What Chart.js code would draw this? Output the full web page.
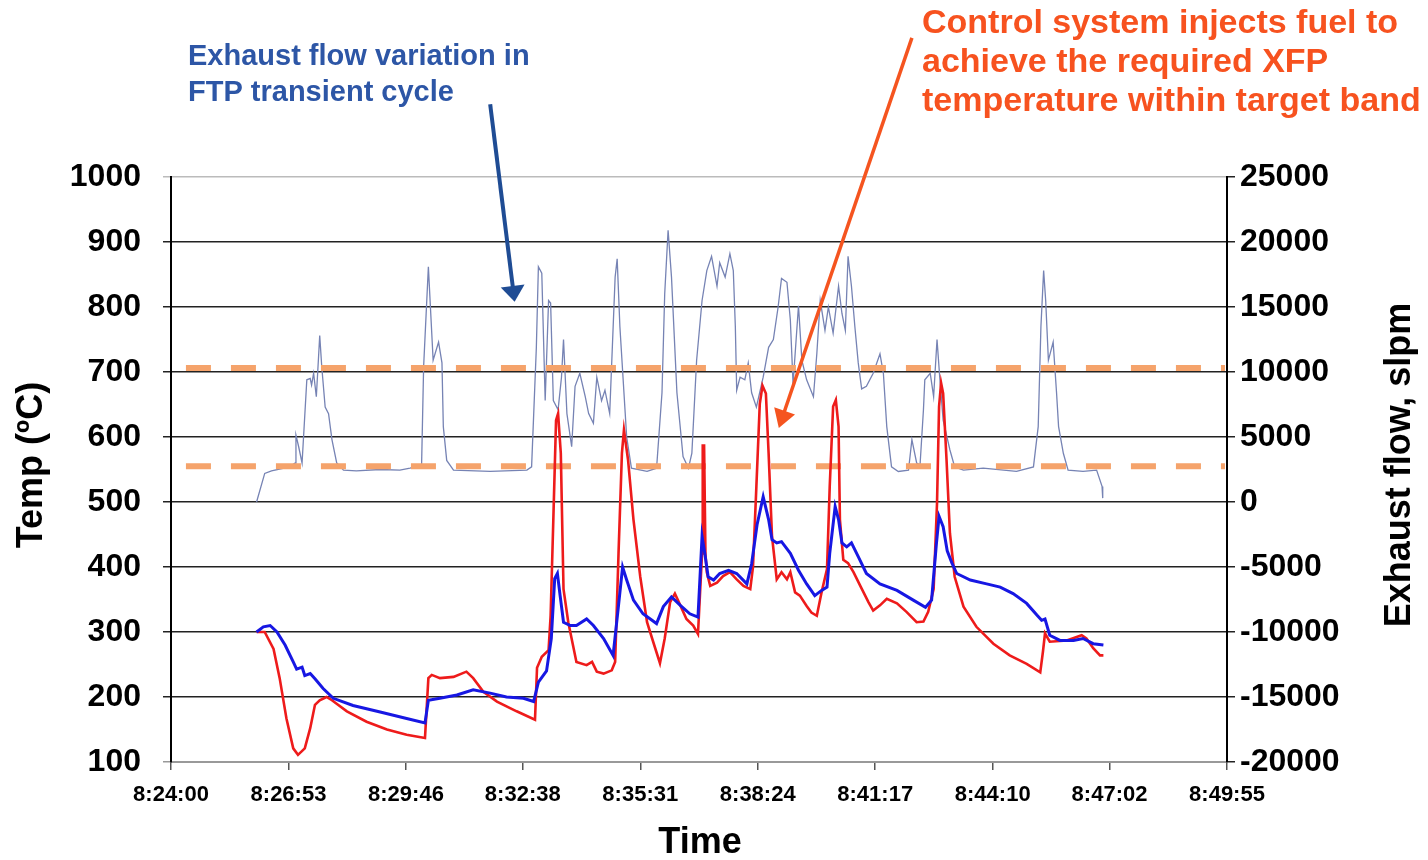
<!DOCTYPE html>
<html>
<head>
<meta charset="utf-8">
<script src="https://cdn.jsdelivr.net/npm/chart.js@4.4.1/dist/chart.umd.min.js"></script>
<style>
  html, body { margin: 0; padding: 0; background: #fff; }
  canvas { display: block; }
</style>
</head>
<body>
<canvas id="xfp" width="1428" height="860"></canvas>
<script>

// clock labels on the time axis, seconds are counted from the first one
var timeLabels = ['8:24:00', '8:26:53', '8:29:46', '8:32:38', '8:35:31', '8:38:24', '8:41:17', '8:44:10', '8:47:02', '8:49:55'];

// exhaust flow, slpm (right axis)
var flowSec = [126, 138, 148, 175, 183, 184, 188, 193, 200, 205, 207, 210, 214, 217, 219, 222, 227, 232, 237, 244, 254, 273, 308, 337, 352, 369,
    372, 379, 382, 386, 394, 399, 401, 406, 416, 470, 524, 531, 538, 541, 546, 551, 556, 559, 563, 570, 575, 578, 583, 590, 595, 602, 610,
    615, 622, 627, 634, 639, 646, 654, 657, 661, 671, 678, 701, 715, 723, 727, 732, 737, 745, 754, 762, 767, 774, 782, 789, 796, 804, 808,
    816, 823, 828, 831, 833, 838, 845, 850, 855, 862, 872, 880, 887, 894, 899, 907, 912, 916, 924, 929, 936, 946, 951, 956, 963, 968, 975,
    983, 988, 993, 997, 1002, 1007, 1012, 1017, 1024, 1034, 1044, 1049, 1054, 1061, 1071, 1086, 1091, 1098, 1103, 1108, 1110, 1118, 1123,
    1128, 1132, 1137, 1147, 1154, 1167, 1196, 1245, 1270, 1277, 1281, 1285, 1288, 1292, 1299, 1304, 1307, 1314, 1321, 1343, 1363, 1371, 1372];
var flowSlpm = [0, 2200, 2400, 2700, 3000, 5150, 4250, 3000, 9400, 9500, 9000, 9900, 8100, 10900, 12800, 10400, 7300, 6800, 4800, 3000, 2450, 2400, 2500, 2450, 2600, 2850,
    10400, 18100, 15000, 10900, 12300, 10700, 5800, 3200, 2450, 2350, 2450, 2700, 11900, 18100, 17600, 7800, 15500, 15300, 7800, 7100, 9600, 12500, 6800, 4250, 8900, 9900, 8100,
    6800, 6050, 9600, 7800, 8600, 6800, 17300, 18700, 13500, 5000, 2600, 2350, 2600, 8400, 16000, 20900, 17300, 8400, 3500, 2600, 3750, 10900, 15500, 17800, 18900, 16600, 18400,
    17300, 19100, 17800, 13500, 8600, 9600, 9400, 10700, 8400, 7300, 9600, 11900, 12500, 15000, 17200, 16900, 14000, 9100, 15100, 10900, 9400, 8100, 11400, 15500, 13200, 15000, 13000,
    16600, 14500, 13200, 18900, 16600, 13500, 10700, 8700, 8900, 9900, 11400, 9900, 5800, 2700, 2350, 2450, 4800, 3000, 2850, 7100, 9400, 9900, 8100,
    12500, 9600, 6300, 4000, 2700, 2450, 2600, 2350, 2700, 5800, 13500, 17800, 15500, 10900, 12300, 8400, 5800, 3750, 2450, 2350, 2450, 1200, 300];

// red temperature trace, deg C (left axis)
var redSec = [126, 138, 151, 160, 170, 180, 187, 197, 205, 212, 219, 229, 237, 259, 288, 318, 347, 374, 379, 384, 396, 416, 435, 445, 460, 480, 509, 536,
    539, 546, 556, 559, 563, 567, 570, 574, 578, 585, 597, 612, 620, 627, 637, 649, 654, 659, 664, 667, 673, 681, 691, 701, 710, 720, 727, 735,
    742, 750, 759, 769, 776, 782, 783, 785, 787, 789, 794, 804, 813, 823, 833, 843, 853, 857, 862, 867, 871, 876, 880, 885, 892, 899, 907, 912,
    919, 926, 936, 943, 951, 958, 966, 970, 975, 979, 983, 985, 990, 997, 1005, 1015, 1027, 1034, 1044, 1054, 1069, 1083, 1098, 1108, 1115,
    1123, 1128, 1131, 1134, 1137, 1142, 1147, 1154, 1167, 1186, 1211, 1235, 1260, 1280, 1284, 1287, 1294, 1319, 1341, 1348, 1358, 1368, 1373];
var redTemp = [300, 300, 274, 229, 167, 121, 111, 121, 152, 188, 195, 200, 195, 178, 162, 150, 142, 137, 229, 234, 229, 231, 239, 229, 208, 193, 178, 165,
    245, 262, 272, 325, 473, 626, 636, 575, 366, 315, 254, 249, 254, 239, 236, 241, 254, 421, 575, 611, 565, 473, 385, 315, 285, 252, 290, 346,
    359, 341, 320, 310, 297, 421, 587, 587, 420, 392, 371, 376, 386, 392, 381, 371, 366, 400, 524, 651, 679, 667, 575, 447, 381, 392, 381, 392,
    361, 356, 340, 330, 325, 361, 397, 524, 647, 657, 616, 473, 411, 406, 392, 371, 346, 333, 341, 351, 344, 331, 315, 316, 331,
    366, 498, 647, 683, 667, 565, 452, 385, 339, 308, 282, 264, 251, 238, 270, 298, 285, 287, 295, 290, 275, 264, 264];

// blue temperature trace, deg C (left axis)
var blueSec = [126, 136, 146, 156, 168, 180, 185, 193, 197, 205, 212, 224, 239, 268, 308, 347, 374, 379, 396, 421, 445, 470, 494, 519, 534,
    541, 553, 560, 565, 569, 573, 578, 588, 597, 612, 622, 637, 651, 659, 665, 671, 681, 695, 715, 725, 737, 750, 764, 776, 782, 786, 791,
    799, 808, 821, 833, 848, 855, 863, 872, 880, 885, 892, 899, 912, 924, 936, 948, 958, 966, 970, 978, 983, 988, 995, 1002, 1012, 1024,
    1044, 1069, 1093, 1111, 1120, 1127, 1131, 1137, 1143, 1150, 1157, 1177, 1201, 1221, 1240, 1260, 1275, 1282, 1287, 1294, 1309, 1329,
    1343, 1358, 1373];
var blueTemp = [300, 308, 310, 300, 280, 254, 243, 246, 233, 236, 228, 213, 198, 187, 177, 167, 160, 195, 198, 203, 211, 206, 200, 198, 193,
    223, 240, 290, 382, 390, 356, 315, 310, 310, 320, 310, 290, 264, 341, 400, 380, 349, 328, 313, 339, 354, 341, 328, 323, 447, 421, 385,
    380, 390, 395, 390, 374, 405, 465, 508, 473, 442, 437, 439, 421, 395, 374, 356, 364, 369, 421, 493, 473, 437, 431, 437, 416, 390,
    374, 364, 349, 338, 349, 435, 478, 462, 425, 406, 390, 380, 374, 369, 359, 344, 326, 318, 320, 295, 287, 287,
    290, 282, 280];

// target band (dashed), deg C
var bandTemp = [555, 706];
var bandSec = [22, 1552];


function toSec(lbl) {
    var p = lbl.split(':');
    var t = parseInt(p[0]) * 3600 + parseInt(p[1]) * 60 + parseInt(p[2]);
    var p0 = timeLabels[0].split(':');
    return t - (parseInt(p0[0]) * 3600 + parseInt(p0[1]) * 60 + parseInt(p0[2]));
}

function pts(xs, ys) {
    return xs.map(function (x, i) {
        return { x: x, y: ys[i] };
    });
}

var FONT = '"Liberation Sans", Arial, sans-serif';

// arrows anchored in data space (sec, degC on the left axis)
function arrow(c, x1, y1, x2, y2, color, w, hl, hw) {
    var a = Math.atan2(y2 - y1, x2 - x1);
    c.strokeStyle = color;
    c.fillStyle = color;
    c.lineWidth = w;
    c.beginPath();
    c.moveTo(x1, y1);
    c.lineTo(x2 - Math.cos(a) * hl * 0.8, y2 - Math.sin(a) * hl * 0.8);
    c.stroke();
    c.beginPath();
    c.moveTo(x2, y2);
    c.lineTo(x2 - Math.cos(a) * hl + Math.sin(a) * hw / 2, y2 - Math.sin(a) * hl - Math.cos(a) * hw / 2);
    c.lineTo(x2 - Math.cos(a) * hl - Math.sin(a) * hw / 2, y2 - Math.sin(a) * hl + Math.cos(a) * hw / 2);
    c.closePath();
    c.fill();
}

var notes = {
    id: 'notes',
    afterDraw: function (chart) {
        var c = chart.ctx;
        var xs = chart.scales.x, ys = chart.scales.y;
        c.save();

        // axis titles
        c.fillStyle = '#000';
        c.font = 'bold 36px ' + FONT;
        c.textAlign = 'center';
        c.textBaseline = 'middle';
        c.fillText('Time', 700, 843);

        c.save();
        c.translate(32, 465);
        c.rotate(-Math.PI / 2);
        c.fillText('Temp (ºC)', 0, 0);
        c.restore();

        c.save();
        c.translate(1400, 465);
        c.rotate(-Math.PI / 2);
        c.fillText('Exhaust flow, slpm', 0, 0);
        c.restore();

        // blue note
        c.textAlign = 'left';
        c.fillStyle = '#2d56a6';
        c.font = 'bold 29px ' + FONT;
        c.fillText('Exhaust flow variation in', 188, 57);
        c.fillText('FTP transient cycle', 188, 93);
        arrow(c, xs.getPixelForValue(470), ys.getPixelForValue(1112),
            xs.getPixelForValue(506), ys.getPixelForValue(808), '#1f4c94', 4, 16, 24);

        // orange note
        c.fillStyle = '#f7521f';
        c.font = 'bold 34px ' + FONT;
        c.fillText('Control system injects fuel to', 922, 24);
        c.fillText('achieve the required XFP', 922, 63);
        c.fillText('temperature within target band', 922, 102);
        arrow(c, xs.getPixelForValue(1091), ys.getPixelForValue(1214),
            xs.getPixelForValue(895), ys.getPixelForValue(614), '#f5541f', 3.5, 18, 22);

        c.restore();
    }
};

var ctx = document.getElementById('xfp').getContext('2d');

var xfpChart = new Chart(ctx, {
    type: 'line',
    data: {
        datasets: [{
            label: 'Exhaust flow',
            data: pts(flowSec, flowSlpm),
            yAxisID: 'y2',
            borderColor: '#7683b4',
            borderWidth: 1.3,
            order: 4
        }, {
            label: 'band low',
            data: pts(bandSec, [bandTemp[0], bandTemp[0]]),
            yAxisID: 'y',
            borderColor: '#f5a36b',
            borderWidth: 6,
            borderDash: [25, 20],
            order: 3
        }, {
            label: 'band high',
            data: pts(bandSec, [bandTemp[1], bandTemp[1]]),
            yAxisID: 'y',
            borderColor: '#f5a36b',
            borderWidth: 6,
            borderDash: [25, 20],
            order: 3
        }, {
            label: 'red',
            data: pts(redSec, redTemp),
            yAxisID: 'y',
            borderColor: '#ee1b1b',
            borderWidth: 2.6,
            order: 2
        }, {
            label: 'blue',
            data: pts(blueSec, blueTemp),
            yAxisID: 'y',
            borderColor: '#1717e3',
            borderWidth: 3,
            order: 1
        }]
    },
    options: {
        responsive: false,
        devicePixelRatio: 1,
        animation: false,
        layout: { padding: { top: 177, left: 0, right: 0, bottom: 0 } },
        elements: {
            point: { radius: 0 },
            line: { tension: 0, fill: false }
        },
        plugins: {
            legend: { display: false },
            tooltip: { enabled: false }
        },
        scales: {
            x: {
                type: 'linear',
                min: 0,
                max: toSec(timeLabels[timeLabels.length - 1]),
                afterBuildTicks: function (axis) {
                    axis.ticks = timeLabels.map(function (l) {
                        return { value: toSec(l) };
                    });
                },
                afterFit: function (s) { s.height = 98; },
                ticks: {
                    autoSkip: false,
                    maxRotation: 0,
                    padding: 12,
                    color: '#000',
                    font: { family: FONT, size: 22, weight: 'bold' },
                    callback: function (v, i) { return timeLabels[i]; }
                },
                grid: { drawOnChartArea: false, tickLength: 8, color: '#555', lineWidth: 1.5 },
                border: { color: '#999', width: 2 }
            },
            y: {
                position: 'left',
                min: 100,
                max: 1000,
                afterFit: function (s) { s.width = 171; },
                ticks: {
                    stepSize: 100,
                    padding: 22,
                    color: '#000',
                    font: { family: FONT, size: 32, weight: 'bold' },
                    callback: function (v) { return String(v); }
                },
                grid: {
                    color: function (c) {
                        if (c.tick && c.tick.value === 1000) return '#bbb';
                        if (c.tick && c.tick.value === 100) return '#999';
                        return '#222';
                    },
                    lineWidth: 1.5,
                    tickLength: 8
                },
                border: { color: '#000', width: 2 }
            },
            y2: {
                position: 'right',
                min: -20000,
                max: 25000,
                afterFit: function (s) { s.width = 201; },
                ticks: {
                    stepSize: 5000,
                    padding: 5,
                    color: '#000',
                    font: { family: FONT, size: 32, weight: 'bold' },
                    callback: function (v) { return String(v); }
                },
                grid: { drawOnChartArea: false, tickLength: 8, color: '#222', lineWidth: 1.5 },
                border: { color: '#000', width: 2 }
            }
        }
    },
    plugins: [notes]
});

</script>
</body>
</html>
